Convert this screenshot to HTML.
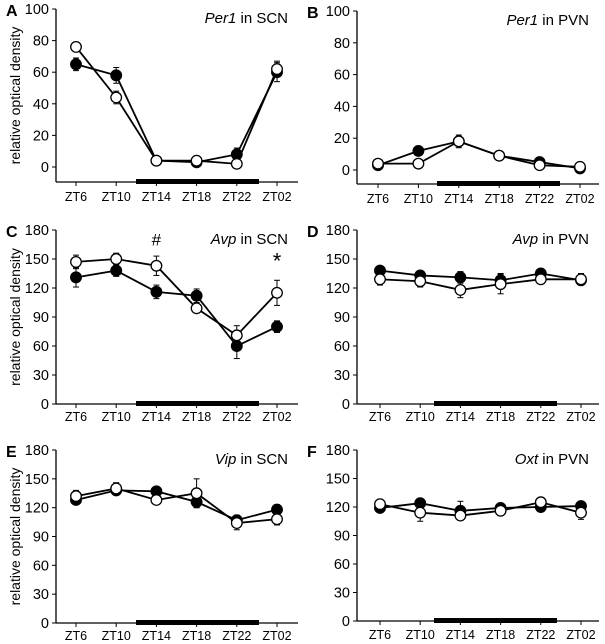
<!DOCTYPE html>
<html><head><meta charset="utf-8">
<style>
html,body{margin:0;padding:0;background:#fff;}
svg{display:block;font-family:"Liberation Sans",Arial,sans-serif;}
</style></head>
<body>
<svg id="fig" width="605" height="644" viewBox="0 0 605 644" xmlns="http://www.w3.org/2000/svg"></svg>
<script>
const categories = ["ZT6","ZT10","ZT14","ZT18","ZT22","ZT02"];
const aFilled=[65,58,4,3,8,60], aFilledErr=[4,5,1,1,4,6];
const aOpen=[76,44,4,4,2,62], aOpenErr=[3,4,1,1,1,5];
const bFilled=[3,12,18,9,5,1], bFilledErr=[1,2,2,1,2,1];
const bOpen=[4,4,18,9,3,2], bOpenErr=[1,1,4,1,1,1];
const cFilled=[131,138,116,112,60,80], cFilledErr=[10,6,7,7,13,6];
const cOpen=[147,150,143,99,71,115], cOpenErr=[7,6,10,4,10,13];
const dFilled=[138,133,131,128,135,128], dFilledErr=[3,3,6,7,3,4];
const dOpen=[129,127,118,124,129,129], dOpenErr=[6,6,8,10,3,6];
const eFilled=[128,138,137,126,107,118], eFilledErr=[3,3,3,6,5,5];
const eOpen=[132,140,128,135,104,108], eOpenErr=[6,6,3,15,7,6];
const fFilled=[119,124,116,119,120,121], fFilledErr=[3,3,10,3,3,3];
const fOpen=[123,114,111,116,125,114], fOpenErr=[3,9,4,5,3,7];
const ticks100=[0,20,40,60,80,100];
const ticks180=[0,30,60,90,120,150,180];

const NS="http://www.w3.org/2000/svg";
const svg=document.getElementById('fig');
function el(tag,attrs,parent,text){const e=document.createElementNS(NS,tag);for(const k in attrs)e.setAttribute(k,attrs[k]);if(text!==undefined)e.textContent=text;(parent||svg).appendChild(e);return e;}

const panels=[
 {id:'a',letter:'A',gene:'Per1',region:' in SCN',ax:56,x0:76,dx:40.2,yTop:9,yBot:167,axisY:182,max:100,ticks:ticks100,bar:[136,259],f:aFilled,fe:aFilledErr,o:aOpen,oe:aOpenErr,ylab:true,labY:201},
 {id:'b',letter:'B',gene:'Per1',region:' in PVN',ax:357,x0:378,dx:40.4,yTop:11,yBot:170,axisY:184,max:100,ticks:ticks100,bar:[437,560],f:bFilled,fe:bFilledErr,o:bOpen,oe:bOpenErr,ylab:false,labY:203},
 {id:'c',letter:'C',gene:'Avp',region:' in SCN',ax:56,x0:76,dx:40.2,yTop:230,yBot:404,axisY:404,max:180,ticks:ticks180,bar:[136,259],f:cFilled,fe:cFilledErr,o:cOpen,oe:cOpenErr,ylab:true,labY:421,marks:[[2,'#',164,17],[5,'*',140,22]]},
 {id:'d',letter:'D',gene:'Avp',region:' in PVN',ax:357,x0:380,dx:40.2,yTop:230,yBot:404,axisY:404,max:180,ticks:ticks180,bar:[434,557],f:dFilled,fe:dFilledErr,o:dOpen,oe:dOpenErr,ylab:false,labY:421},
 {id:'e',letter:'E',gene:'Vip',region:' in SCN',ax:56,x0:76,dx:40.2,yTop:450,yBot:623,axisY:623,max:180,ticks:ticks180,bar:[136,259],f:eFilled,fe:eFilledErr,o:eOpen,oe:eOpenErr,ylab:true,labY:640},
 {id:'f',letter:'F',gene:'Oxt',region:' in PVN',ax:357,x0:380,dx:40.2,yTop:450,yBot:621,axisY:621,max:180,ticks:ticks180,bar:[434,557],f:fFilled,fe:fFilledErr,o:fOpen,oe:fOpenErr,ylab:false,labY:639}
];

panels.forEach(p=>{
 const g=el('g',{});
 
 
 const ys=v=>p.yBot-(v/p.max)*(p.yBot-p.yTop);
 const xs=i=>p.x0+i*p.dx;
 const right=p.ax+242;
 const ya=el('line',{x1:p.ax,y1:p.yTop,x2:p.ax,y2:p.axisY,stroke:'#000','stroke-width':1.3},g);
 
 
 const xa=el('line',{x1:p.ax,y1:p.axisY,x2:right,y2:p.axisY,stroke:'#000','stroke-width':1.3},g);
 
 
 p.ticks.forEach(t=>{
  const y=ys(t);
  el('line',{x1:p.ax-4,y1:y,x2:p.ax,y2:y,stroke:'#000','stroke-width':1},g);
  const tl=el('text',{x:p.ax-7,y:y+5,'text-anchor':'end','font-size':14.5},g,String(t));
  
  
 });
 categories.forEach((c,i)=>{
  el('line',{x1:xs(i),y1:p.axisY,x2:xs(i),y2:p.axisY+4,stroke:'#000','stroke-width':1},g);
  const xl=el('text',{x:xs(i),y:p.labY,'text-anchor':'middle','font-size':12.5},g,c);
  
  
 });
 const bar=el('rect',{x:p.bar[0],y:p.axisY-3,width:p.bar[1]-p.bar[0],height:5,fill:'#000'},g);
 
 
 const lt=el('text',{x:p.ax-50,y:p.yTop+7,'font-size':16,'font-weight':'bold'},g,p.letter);
 
 
 const title=el('text',{x:right-10,y:p.yTop+14,'text-anchor':'end','font-size':15},g);
 
 
 el('tspan',{'font-style':'italic'},title,p.gene);
 el('tspan',{},title,p.region);
 if(p.ylab){
  const cy=(p.yTop+p.axisY)/2;
  const yl=el('text',{x:0,y:0,transform:`translate(20,${cy}) rotate(-90)`,'text-anchor':'middle','font-size':14},g,'relative optical density');
  
  
 }
 [[p.f,p.fe,'filled'],[p.o,p.oe,'open']].forEach(([vals,errs,nm])=>{
  const pts=vals.map((v,i)=>xs(i)+','+ys(v)).join(' ');
  const line=el('polyline',{points:pts,fill:'none',stroke:'#000','stroke-width':1.8},g);
  
  
  vals.forEach((v,i)=>{
   const x=xs(i),y1=ys(v+errs[i]),y2=ys(v-errs[i]);
   el('line',{x1:x,y1:y1,x2:x,y2:y2,stroke:'#000','stroke-width':1},g);
   el('line',{x1:x-3,y1:y1,x2:x+3,y2:y1,stroke:'#000','stroke-width':1},g);
   el('line',{x1:x-3,y1:y2,x2:x+3,y2:y2,stroke:'#000','stroke-width':1},g);
  });
 });
 [[p.f,'#000','filled'],[p.o,'#fff','open']].forEach(([vals,fill,nm])=>{
  vals.forEach((v,i)=>{
   const c=el('circle',{cx:xs(i),cy:ys(v),r:5.3,fill:fill,stroke:'#000','stroke-width':1.3},g);
   
   
  });
 });
 (p.marks||[]).forEach(([i,s,v,fs])=>{
  const m=el('text',{x:xs(i),y:ys(v),'text-anchor':'middle','font-size':fs},g,s);
  
  
 });
});
</script>
</body></html>
